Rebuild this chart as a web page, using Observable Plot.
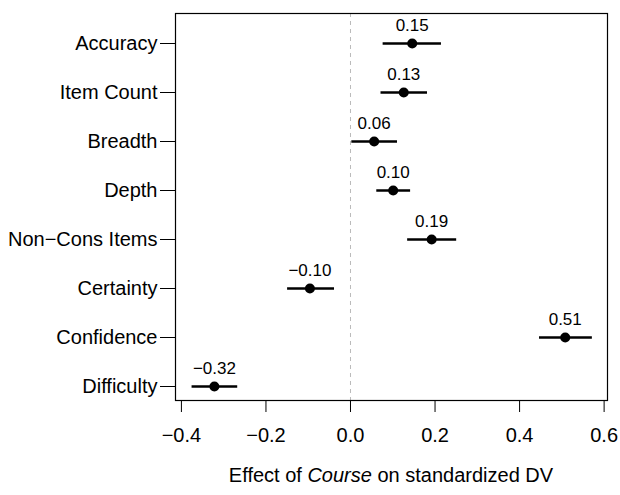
<!DOCTYPE html>
<html><head><meta charset="utf-8">
<script src="https://cdn.jsdelivr.net/npm/d3@7"></script>
<script src="https://cdn.jsdelivr.net/npm/@observablehq/plot@0.6"></script>
<style>body{margin:0;background:#fff}</style>
</head><body><div id="chart"></div>
<script>
const categories = ["Accuracy","Item Count","Breadth","Depth","Non−Cons Items","Certainty","Confidence","Difficulty"];
const estimates = [0.146, 0.126, 0.056, 0.101, 0.192, -0.096, 0.508, -0.322];
const lower = [0.076, 0.071, 0.002, 0.061, 0.134, -0.150, 0.446, -0.376];
const upper = [0.214, 0.181, 0.110, 0.141, 0.250, -0.039, 0.571, -0.268];
const labels = ["0.15","0.13","0.06","0.10","0.19","−0.10","0.51","−0.32"];
const xTicks = [-0.4, -0.2, 0, 0.2, 0.4, 0.6];

const data = categories.map((c, i) => ({cat: c, est: estimates[i], lo: lower[i], hi: upper[i], label: labels[i]}));
const font = "'Liberation Sans', Arial, Helvetica, sans-serif";

const plot = Plot.plot({
  width: 620, height: 495,
  marginLeft: 175, marginRight: 13, marginTop: 13, marginBottom: 95,
  style: {fontFamily: font, fontSize: "20px", background: "#fff", color: "#000"},
  x: {domain: [-0.414, 0.608], label: null},
  y: {type: "point", domain: categories, padding: 0, insetTop: 29, insetBottom: 14, label: null},
  marks: [
    Plot.ruleX([0], {stroke: "#bbb", strokeDasharray: "4,4"}),
    Plot.axisX({ticks: xTicks, tickSize: 12, tickPadding: 15, fontSize: 20, tickFormat: d3.format(".1f"), label: null}),
    Plot.axisY({tickSize: 15, tickPadding: 3, fontSize: 20, label: null}),
    Plot.link(data, {x1: "lo", x2: "hi", y1: "cat", y2: "cat", stroke: "#000", strokeWidth: 2.5}),
    Plot.dot(data, {x: "est", y: "cat", r: 5, fill: "#000"}),
    Plot.text(data, {x: "est", y: "cat", text: "label", dy: -17.5, fontSize: 17, fill: "#000"}),
    Plot.frame({stroke: "#000", strokeWidth: 1.2})
  ]
});

const lab = d3.select(plot).append("text")
  .attr("x", 391).attr("y", 482)
  .attr("text-anchor", "middle")
  .attr("font-family", font)
  .attr("font-size", 20)
  .attr("fill", "#000");
lab.append("tspan").text("Effect of ");
lab.append("tspan").attr("font-style", "italic").text("Course");
lab.append("tspan").text(" on standardized DV");

document.getElementById("chart").appendChild(plot);
</script>
</body></html>
